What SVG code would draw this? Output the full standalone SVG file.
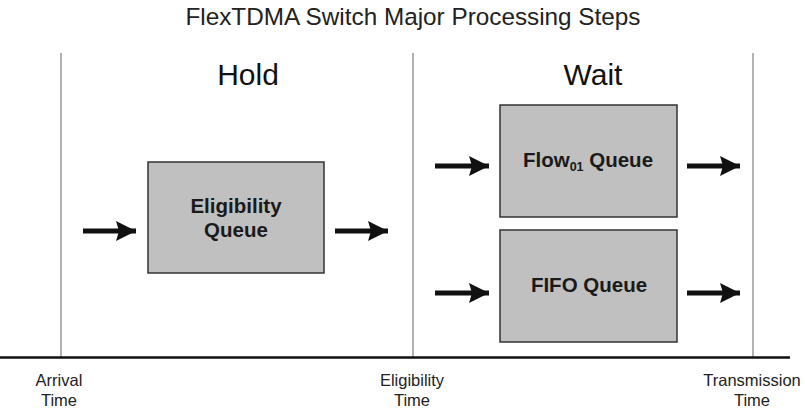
<svg xmlns="http://www.w3.org/2000/svg" width="805" height="412" viewBox="0 0 805 412">
  <defs>
    <marker id="head" markerUnits="userSpaceOnUse" markerWidth="21" markerHeight="22" refX="20" refY="11" orient="auto">
      <path d="M0,1 L20,11 L0,21 L3,11 Z" fill="#111"/>
    </marker>
  </defs>
  <style>
    .title { font-family: "Liberation Sans", Arial, sans-serif; font-size: 24.3px; fill: #222; text-anchor: middle; }
    .phase { font-family: "Liberation Sans", Arial, sans-serif; font-size: 30px; fill: #111; text-anchor: middle; }
    .tick { font-family: "Liberation Sans", Arial, sans-serif; font-size: 16.5px; fill: #222; text-anchor: middle; }
    .qlabel { font-family: "Liberation Sans", Arial, sans-serif; font-size: 20.5px; font-weight: bold; fill: #1a1a1a; text-anchor: middle; }
    .box { fill: #c0c0c0; stroke: #333; stroke-width: 1.5; }
    .divider { stroke: #a0a0a0; stroke-width: 1.6; }
    .axis { stroke: #111; stroke-width: 2.5; }
    .arrow { stroke: #111; stroke-width: 5; marker-end: url(#head); }
  </style>

  <rect width="805" height="412" fill="#fff"/>

  <text class="title" x="413" y="25">FlexTDMA Switch Major Processing Steps</text>

  <!-- timeline -->
  <g id="timeline">
    <line class="divider" x1="61" y1="53" x2="61" y2="357"/>
    <line class="divider" x1="413" y1="53" x2="413" y2="357"/>
    <line class="divider" x1="753" y1="53" x2="753" y2="357"/>
    <line class="axis" x1="0" y1="357.5" x2="790" y2="357.5"/>
    <text class="tick" x="59" y="386">Arrival</text>
    <text class="tick" x="59" y="406">Time</text>
    <text class="tick" x="412" y="386">Eligibility</text>
    <text class="tick" x="412" y="406">Time</text>
    <text class="tick" x="752" y="386">Transmission</text>
    <text class="tick" x="752" y="406">Time</text>
  </g>

  <text class="phase" x="248" y="85">Hold</text>
  <text class="phase" x="593" y="85">Wait</text>

  <g id="eligibility-queue">
    <rect class="box" x="148" y="162" width="176" height="111"/>
    <text class="qlabel" x="236" y="212.5">Eligibility</text>
    <text class="qlabel" x="236" y="237">Queue</text>
  </g>

  <g id="flow01-queue">
    <rect class="box" x="500" y="105" width="177" height="112"/>
    <text class="qlabel" x="588" y="167">Flow<tspan font-size="12.5px" dy="4">01</tspan><tspan dy="-4"> Queue</tspan></text>
  </g>

  <g id="fifo-queue">
    <rect class="box" x="500" y="230" width="177" height="112"/>
    <text class="qlabel" x="589" y="292">FIFO Queue</text>
  </g>

  <g id="connectors">
    <line class="arrow" x1="83" y1="231" x2="136" y2="231"/>
    <line class="arrow" x1="335" y1="231" x2="388" y2="231"/>
    <line class="arrow" x1="435" y1="166" x2="489" y2="166"/>
    <line class="arrow" x1="435" y1="293" x2="489" y2="293"/>
    <line class="arrow" x1="687" y1="166" x2="740" y2="166"/>
    <line class="arrow" x1="687" y1="293" x2="740" y2="293"/>
  </g>
</svg>
